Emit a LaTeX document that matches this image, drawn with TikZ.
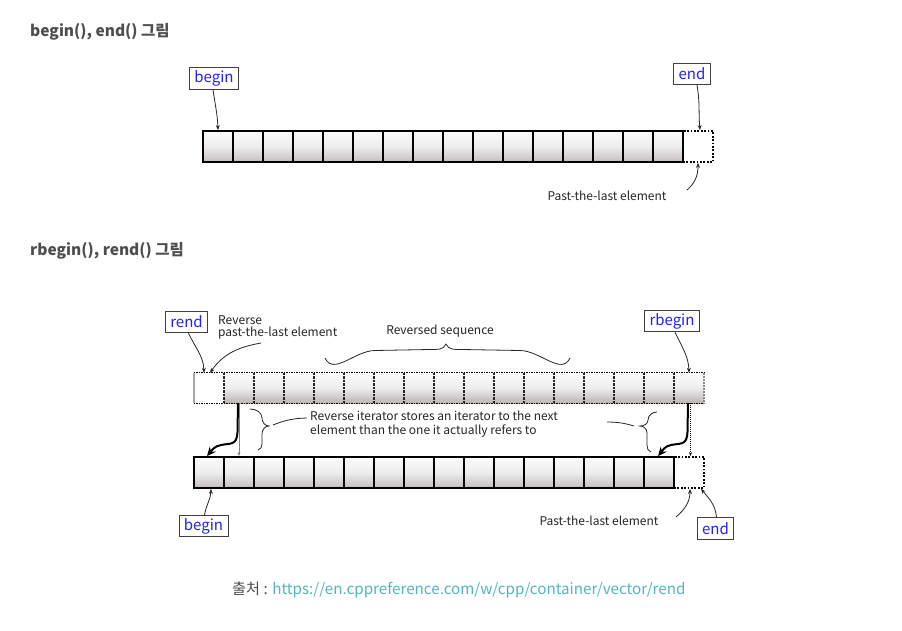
\documentclass[tikz,border=0pt]{standalone}
\usepackage{fontspec}
\setmainfont{Noto Sans CJK KR}
\usetikzlibrary{arrows.meta}
\definecolor{hd}{RGB}{78,78,78}
\definecolor{urlc}{RGB}{86,182,188}
\definecolor{lblue}{RGB}{35,35,235}
\definecolor{celltop}{RGB}{252,252,252}
\definecolor{cellmid}{RGB}{238,237,237}
\definecolor{cellbot}{RGB}{198,189,189}
\definecolor{cellbotr}{RGB}{190,179,179}
\begin{document}
\begin{tikzpicture}[x=1pt,y=-1pt,
  cellbox/.style={minimum width=30pt,minimum height=31pt,inner sep=0pt,draw=black,line width=1.8pt,top color=celltop,bottom color=cellbot,middle color=cellmid},
  rcell/.style={minimum width=30pt,minimum height=30pt,inner sep=0pt,top color=celltop,bottom color=cellbotr,middle color=cellmid},
  rwhite/.style={minimum width=30pt,minimum height=30pt,inner sep=0pt,fill=white},
  pastbox/.style={minimum width=30pt,minimum height=31pt,inner sep=0pt,draw=black,line width=1.8pt,dash pattern=on 1.8pt off 1.6pt,fill=white},
  lbl/.style={draw=black!75,line width=0.8pt,fill=white,text=lblue,font=\fontsize{15}{17}\selectfont,inner xsep=5pt,inner ysep=0pt,minimum height=21.5pt},
  txt/.style={text=black!85,font=\fontsize{12}{13}\selectfont,inner sep=0pt},
  head/.style={text=hd,font=\fontsize{15.5}{18}\selectfont\bfseries,inner sep=0pt,anchor=west},
  arr/.style={-{Stealth[length=5pt,width=4pt]},line width=0.8pt,black!85},
  bigarr/.style={-{Stealth[length=9pt,width=8pt]},line width=2pt,black},
  thinarr/.style={-{Stealth[length=4pt,width=3pt]},line width=0.6pt,black!50},
  dotarr/.style={-{Stealth[length=4pt,width=3pt]},line width=0.8pt,black,dash pattern=on 1pt off 1pt},
  brace/.style={line width=0.8pt,black!85},
  rdiv/.style={line width=1.5pt,black!85,dash pattern=on 2.5pt off 1pt},
  redge/.style={line width=0.8pt,black,dash pattern=on 1.5pt off 1pt}]
\fill[white] (0,0) rectangle (902,631);
\useasboundingbox (0,0) rectangle (902,631);

% headings
\node[head] (h1) at (30,32) {begin(), end() 그림};
\node[head] (h2) at (30,251) {rbegin(), rend() 그림};

% ---------- top diagram ----------
\node[pastbox] (aE) at (698,146.5) {};
\foreach \i in {0,...,15} \node[cellbox] (a\i) at ({218+30*\i},146.5) {};
\node[lbl] (lbBegin) at (214,78.5) {begin};
\node[lbl] (lbEnd) at (692,74) {end};
\node[txt] (tPast) at (607,196) {Past-the-last element};
\coordinate (cPast) at (687,190);
\draw[arr] ([xshift=-1pt]lbBegin.south) to[out=-82,in=92] (a0.north);
\draw[arr] ([xshift=5pt]lbEnd.south) to[out=-80,in=95] ([xshift=2pt]aE.north);
\draw[arr] (cPast) to[out=40,in=-90] (aE.south);

% ---------- bottom diagram: reversed ----------
\node[rwhite] (rw) at (209,388) {};
\foreach \i in {0,...,15} \node[rcell] (r\i) at ({239+30*\i},388) {};
\foreach \i in {0,...,15} \draw[rdiv] (r\i.north west) -- (r\i.south west);
\draw[redge] (rw.north west) -- (r15.north east);
\draw[redge] (rw.south west) -- (r15.south east);
\draw[line width=1.5pt,black!35] (rw.north west) -- (rw.south west);
\draw[line width=1.5pt,black!45,dash pattern=on 2pt off 1pt] (r15.north east) -- (r15.south east);

% ---------- bottom diagram: normal ----------
\node[pastbox] (bE) at (689,472.5) {};
\foreach \i in {0,...,15} \node[cellbox] (b\i) at ({209+30*\i},472.5) {};

% labels
\node[lbl] (lbRend) at (186.5,322) {rend};
\node[lbl] (lbRbegin) at (672,321) {rbegin};
\node[lbl] (lbBegin2) at (203.5,526) {begin};
\node[lbl] (lbEnd2) at (715.5,528.5) {end};
\node[txt,anchor=west,align=left,font=\fontsize{12}{12}\selectfont] (tRevPast) at (218,327) {Reverse\\past-the-last element};
\node[txt] (tSeq) at (440,331) {Reversed sequence};
\node[txt,anchor=west,align=left,font=\fontsize{12}{13.5}\selectfont] (tStores) at (310,424) {Reverse iterator stores an iterator to the next\\element than the one it actually refers to};
\node[txt] (tPast2) at (599,521) {Past-the-last element};

% arrows from labels
\draw[arr] ([xshift=2pt]lbRend.south) to[out=-65,in=92] ([xshift=-5pt]rw.north);
\coordinate (cRP) at (261,343);
\draw[arr] (cRP) to[out=190,in=55] ([xshift=1pt]rw.north);
\draw[arr] ([xshift=3pt]lbRbegin.south) to[out=-65,in=92] (r15.north);
\draw[arr] ([xshift=1pt]lbBegin2.north) to[out=80,in=-92] ([xshift=2pt]b0.south);
\coordinate (cP2) at (676,517);
\draw[arr] (cP2) to[out=40,in=-90] ([xshift=1pt]bE.south);
\draw[arr] ([xshift=1pt]lbEnd2.north) to[out=95,in=-50] ([xshift=12pt]bE.south);

% reversed sequence brace
\draw[brace] (325,358) to[out=-65,in=180] (375,350.5) -- (430,349.5) to[out=0,in=-110] (446,344) to[out=-70,in=180] (462,349.5) -- (520,350.5) to[out=0,in=-115] (570,358);

% iterator arrows
\draw[thinarr] (r0.south) -- (b1.north);
\draw[bigarr] ([xshift=-1pt]r0.south) -- (237.5,432) .. controls (237,446) and (230,443) .. (221,445) to[out=190,in=50] ([xshift=-2pt]b0.north);
\draw[dotarr] ([xshift=1.5pt]r15.south) -- ([xshift=1.5pt]bE.north);
\draw[bigarr] ([xshift=-1pt]r15.south) -- (687.5,432) .. controls (687,446) and (680,443) .. (671,445) to[out=190,in=50] ([xshift=-1pt]b15.north);

% hand-drawn braces and leader lines
\draw[brace] (250,409) to[out=0,in=90] (262,418) to[out=-90,in=180] (269,426) to[out=180,in=90] (262,434) -- (262,444) to[out=-90,in=10] (258,450);
\coordinate (cL1) at (273,425);
\coordinate (cL2) at (307,418);
\draw[brace] (cL1) to[bend left=10] (cL2);
\draw[brace] (657,412) to[out=180,in=90] (648,420) to[out=-90,in=0] (640,426) to[out=0,in=90] (647,433) -- (647,445) to[out=-90,in=170] (651,452);
\coordinate (cR1) at (607,422);
\coordinate (cR2) at (634,426);
\draw[brace] (cR1) to[bend left=8] (cR2);

% footer
\node[anchor=west,inner sep=0pt,font=\fontsize{15.2}{18}\selectfont] (foot) at (232,590) {\textcolor{hd}{출처 :} \textcolor{urlc}{https://en.cppreference.com/w/cpp/container/vector/rend}};
\end{tikzpicture}
\end{document}
